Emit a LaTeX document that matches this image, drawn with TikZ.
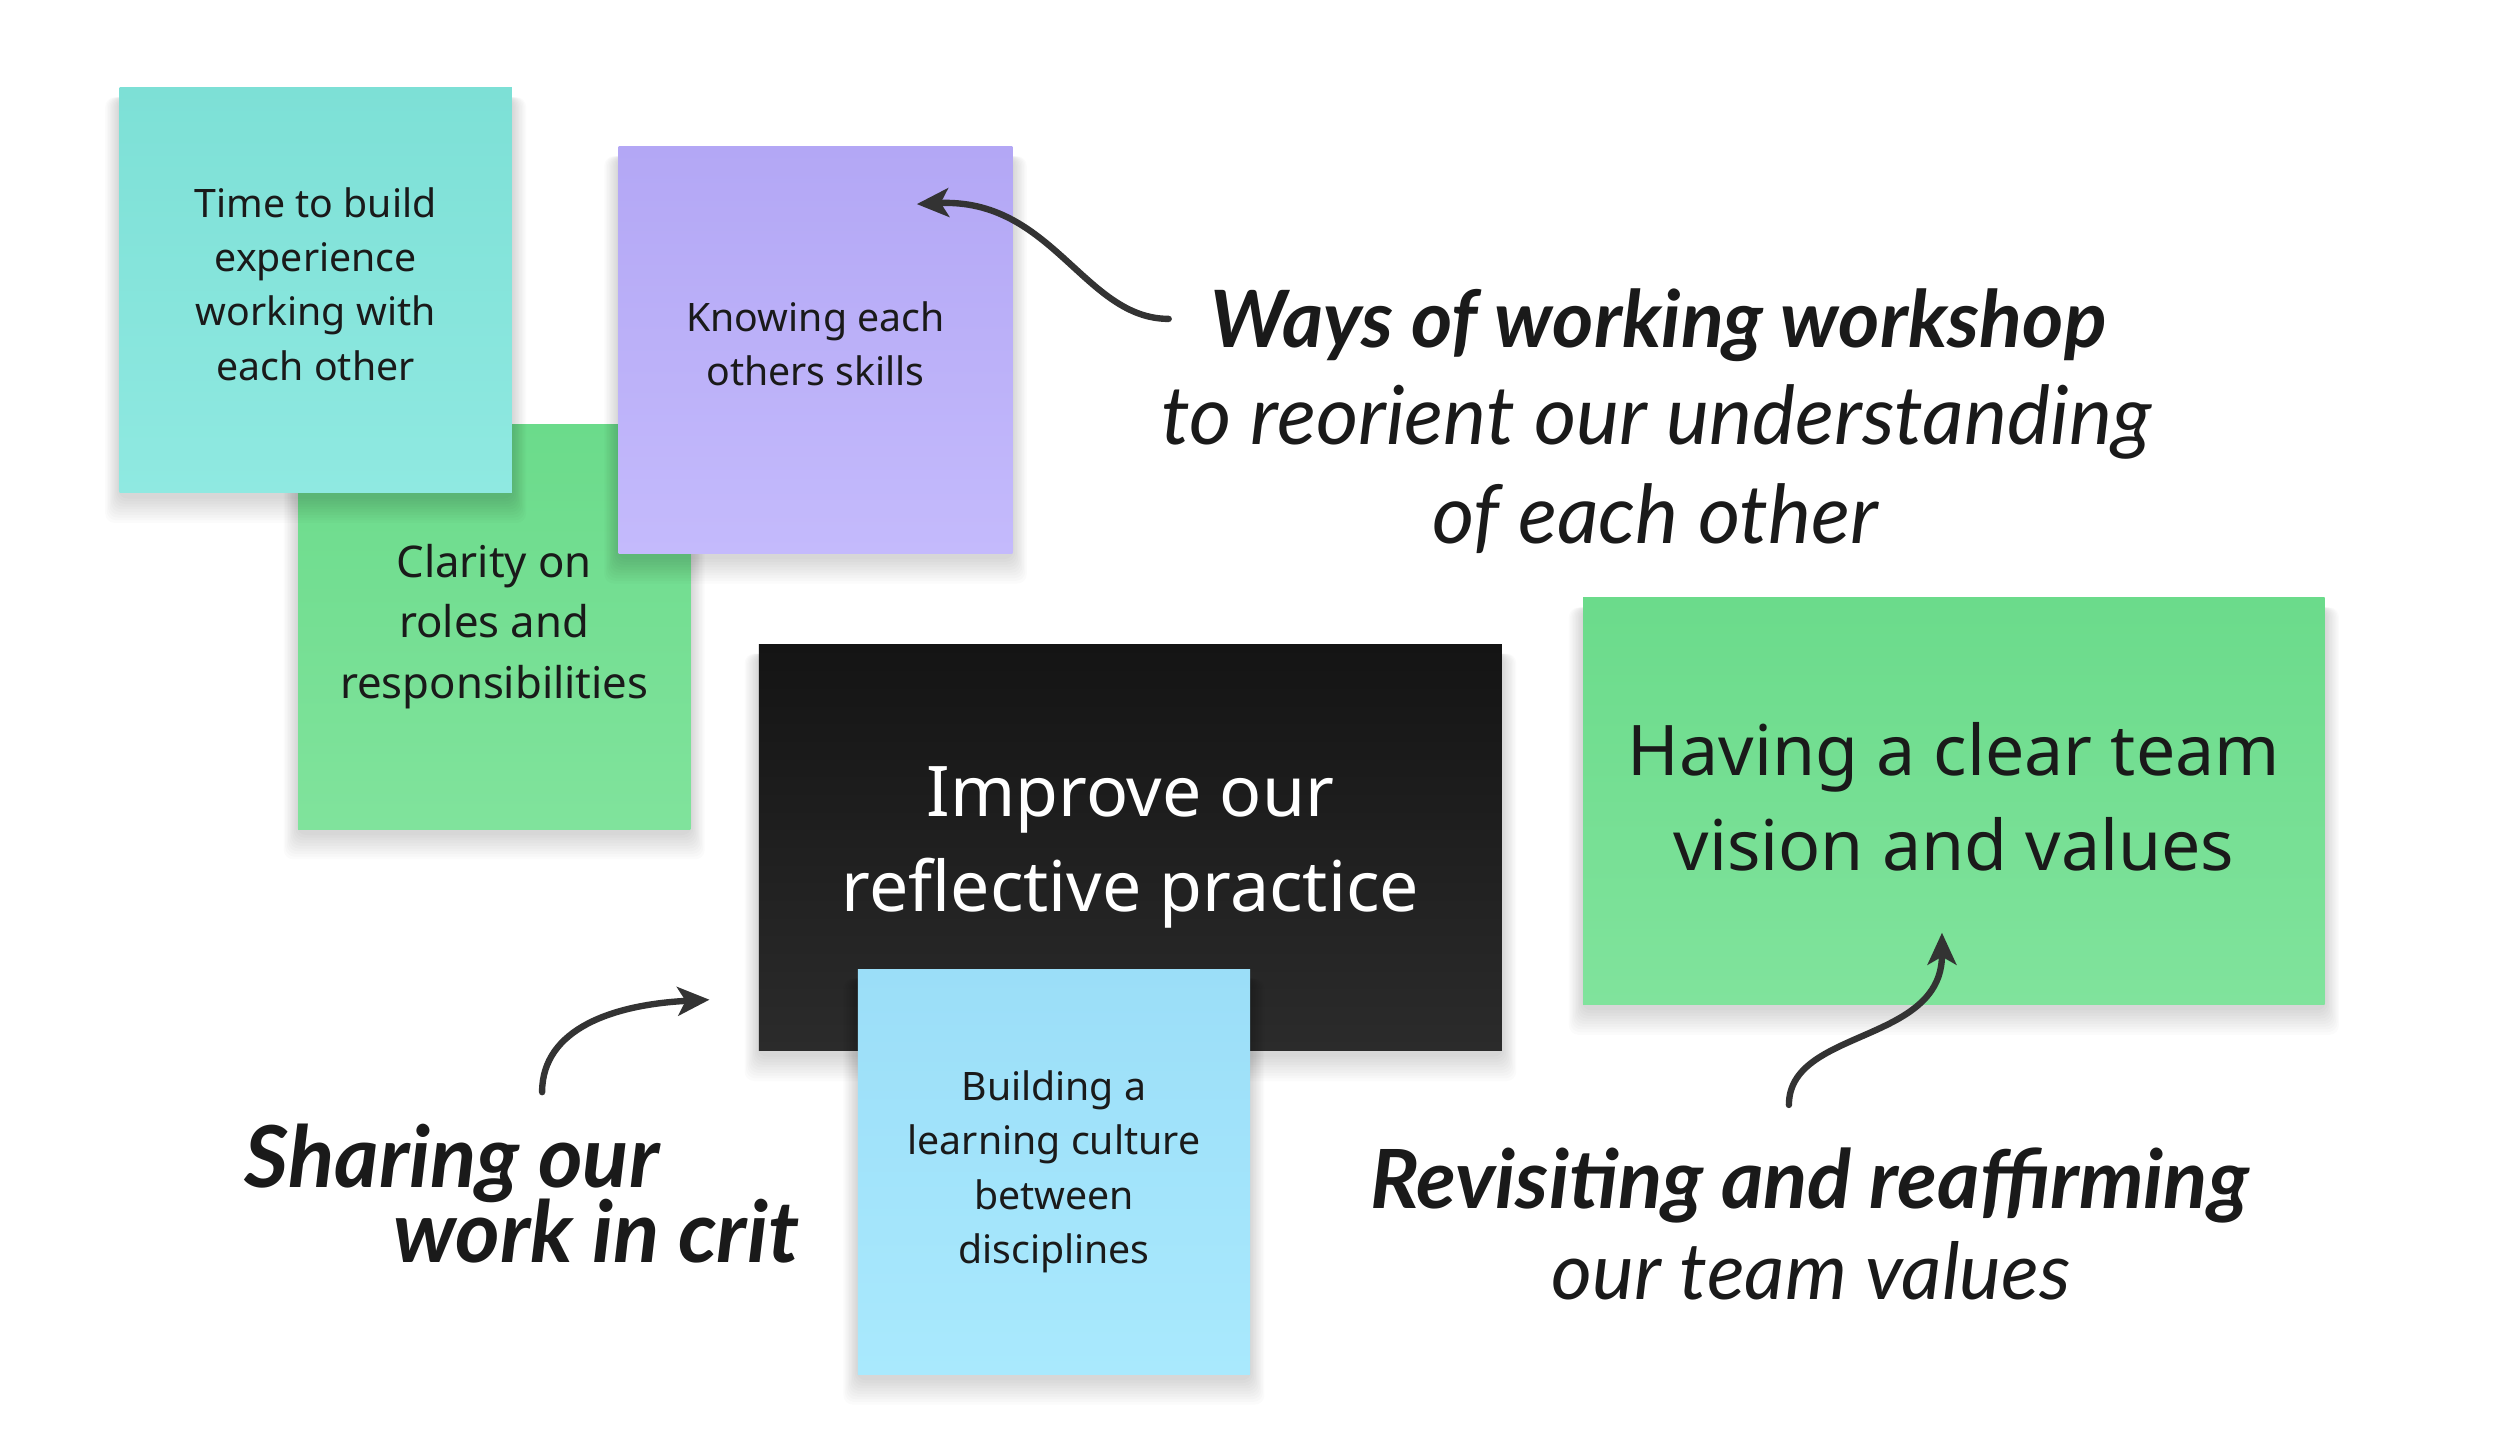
\documentclass[tikz,border=0pt]{standalone}
\usepackage{fontspec}
\setmainfont{Noto Sans}
\newfontfamily\hand{Lato}
\usetikzlibrary{arrows.meta}
\definecolor{tealA}{HTML}{7DE0D6}\definecolor{tealB}{HTML}{8FE9E1}
\definecolor{grnA}{HTML}{6BDB8B}\definecolor{grnB}{HTML}{80E39C}
\definecolor{purA}{HTML}{B3A7F5}\definecolor{purB}{HTML}{C4BAFC}
\definecolor{blkA}{HTML}{141414}\definecolor{blkB}{HTML}{2B2B2B}
\definecolor{bluA}{HTML}{9BDEF8}\definecolor{bluB}{HTML}{A9E9FD}
\definecolor{notetext}{HTML}{1A1A1A}
\definecolor{arrowc}{HTML}{333333}
% soft drop shadow: centre x, centre y, width, height (picture units)
\newcommand\noteshadow[4]{%
  \foreach \k in {1,...,10}{%
    \fill[black,opacity=0.015,rounded corners=3pt]
      ({#1-#3/2-\k*0.9},{#2-#4/2+6}) rectangle ({#1+#3/2+\k*0.9},{#2+#4/2+2+\k*1.7});}}
\begin{document}
\begin{tikzpicture}[x=0.5pt,y=-0.5pt,
  note/.style={rectangle, inner sep=0pt, align=center, text=notetext,
    minimum width=123pt, minimum height=127pt},
  small/.style={font=\fontsize{12.3}{17}\selectfont},
  big/.style={font=\fontsize{21.9}{30}\selectfont},
  handb/.style={anchor=base, text=notetext, font=\hand\bfseries\itshape\fontsize{24.8}{30}\selectfont},
  handr/.style={anchor=base, text=notetext, font=\hand\itshape\fontsize{25.5}{30}\selectfont},
  curvy/.style={draw=arrowc, line width=2pt, line cap=round, -{Stealth[length=10pt,width=9pt,inset=2.5pt]}}
]
\path[fill=white,use as bounding box] (0,0) rectangle (1568,907);

% sticky notes
\noteshadow{310}{393}{246}{254}
\node[note, font=\fontsize{13.7}{19}\selectfont, top color=grnA, bottom color=grnB] (clarity) at (310,393) {Clarity on\\roles and\\responsibilities};
\noteshadow{198}{182}{246}{254}
\node[note, small, top color=tealA, bottom color=tealB] (time) at (198,182) {Time to build\\experience\\working with\\each other\\[-13pt]};
\noteshadow{511.5}{219.5}{247}{255}
\node[note, small, top color=purA, bottom color=purB, minimum width=123.5pt, minimum height=127.5pt] (know) at (511.5,219.5) {Knowing each\\others skills\\[-13pt]};
\noteshadow{709}{531.5}{466}{255}
\node[note, big, text=white, top color=blkA, bottom color=blkB, minimum width=233pt, minimum height=127.5pt] (improve) at (709,531.5) {Improve our\\reflective practice};
\noteshadow{661}{735}{246}{254}
\node[note, small, top color=bluA, bottom color=bluB] (build) at (661,735) {Building a\\learning culture\\between\\disciplines};
\noteshadow{1225.5}{502.5}{465}{255}
\node[note, big, top color=grnA, bottom color=grnB, minimum width=232.5pt, minimum height=127.5pt] (vision) at (1225.5,502.5) {Having a clear team\\vision and values\\[-27pt]};

% handwritten labels
\node[handb] (ways1) at (1040,218) {Ways of working workshop};
\node[handr] (ways2) at (1039,279) {to reorient our understanding};
\node[handr] (ways3) at (1038,341) {of each other};
\node[handb, font=\hand\bfseries\itshape\fontsize{26.8}{30}\selectfont] (share1) at (283.5,745) {Sharing our};
\node[handb, font=\hand\bfseries\itshape\fontsize{26.8}{30}\selectfont] (share2) at (374,792) {work in crit};
\node[handb, font=\hand\bfseries\itshape\fontsize{25.6}{30}\selectfont] (rev1) at (1135,758) {Revisiting and reaffirming};
\node[handr, font=\hand\itshape\fontsize{24.7}{30}\selectfont] (rev2) at (1136,815) {our team values};

% arrows
\coordinate (a1s) at (733,200);
\coordinate (a1e) at (575,128);
\coordinate (a2s) at (340,685);
\coordinate (a2e) at (445,627);
\coordinate (a3s) at (1122,693);
\coordinate (a3e) at (1218,585);
\draw[curvy] (a1s) .. controls (680,200) and (660,124) .. (a1e);
\draw[curvy] (a2s) .. controls (340,645) and (385,630) .. (a2e);
\draw[curvy] (a3s) .. controls (1122,645) and (1218,655) .. (a3e);
\end{tikzpicture}
\end{document}
